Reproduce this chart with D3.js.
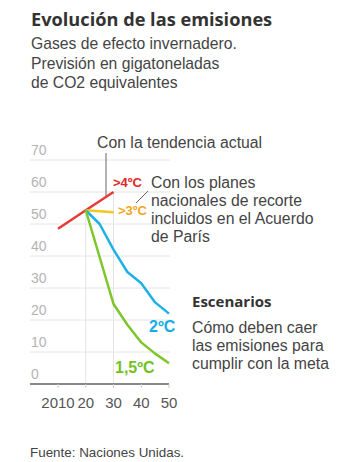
<!DOCTYPE html>
<html>
<head>
<meta charset="utf-8">
<script src="https://cdn.jsdelivr.net/npm/d3@7"></script>
<style>
	body { margin: 0; background: #fff; }
	svg { font-family: 'Liberation Sans', Arial, sans-serif; }
</style>
</head>
<body>
<svg id="chart" width="358" height="462"></svg>
<script>
// values (gigatonnes CO2e)
const tendencia = [[2010, 48.5], [2020, 54.3], [2030, 60]]
const paris = [[2020, 54.3], [2030, 53.7]]
const dosGrados = [[2020, 54.3], [2025, 50], [2030, 42], [2035, 35], [2040, 31.5], [2045, 25.5], [2050, 22]]
const unoCinco = [[2020, 54.3], [2030, 25], [2035, 18.5], [2040, 13], [2045, 9.5], [2050, 6.5]]

const yTicks = [0, 10, 20, 30, 40, 50, 60, 70]
const xTicks = [2010, 2020, 2030, 2040, 2050]
const xTickLabels = ['2010', '20', '30', '40', '50']

const svg = d3.select('#chart')
const x = d3.scaleLinear().domain([2010, 2050]).range([58, 169])
const y = d3.scaleLinear().domain([0, 70]).range([384, 160])

const line = d3
	.line()
	.x(d => x(d[0]))
	.y(d => y(d[1]))

// title block
svg.append('text')
	.attr('x', 31)
	.attr('y', 26)
	.attr('font-family', "'Open Sans', sans-serif")
	.attr('font-size', 18.2)
	.attr('font-weight', 700)
	.attr('fill', '#333')
	.text('Evolución de las emisiones')
const sub = ['Gases de efecto invernadero.', 'Previsión en gigatoneladas', 'de CO2 equivalentes']
svg.append('g')
	.selectAll('text')
	.data(sub)
	.enter()
	.append('text')
	.attr('x', 31)
	.attr('y', (d, i) => 49 + i * 19.5)
	.attr('font-size', 15.7)
	.attr('fill', '#444')
	.text(d => d)

// grid
const grid = svg.append('g')
grid.selectAll('line.h')
	.data(yTicks.filter(v => v > 0))
	.enter()
	.append('line')
	.attr('x1', 30)
	.attr('x2', 170)
	.attr('y1', d => y(d))
	.attr('y2', d => y(d))
	.attr('stroke', '#e4e4e4')
	.attr('stroke-width', 1)
// vertical guides at 2020 and 2030, from the trend line down
grid.selectAll('line.v')
	.data(tendencia.slice(1))
	.enter()
	.append('line')
	.attr('x1', d => x(d[0]))
	.attr('x2', d => x(d[0]))
	.attr('y1', d => y(d[1]))
	.attr('y2', y(0))
	.attr('stroke', '#e4e4e4')
	.attr('stroke-width', 1)

grid.selectAll('text')
	.data(yTicks)
	.enter()
	.append('text')
	.attr('x', 31)
	.attr('y', d => y(d) - 5)
	.attr('font-size', 14)
	.attr('fill', '#b3b3b3')
	.text(d => d)

// x axis
const xAxis = svg.append('g')
xAxis.append('line')
	.attr('x1', 30)
	.attr('x2', 169)
	.attr('y1', y(0))
	.attr('y2', y(0))
	.attr('stroke', '#888')
	.attr('stroke-width', 2)
xAxis.selectAll('line.tick')
	.data(xTicks)
	.enter()
	.append('line')
	.attr('x1', d => x(d))
	.attr('x2', d => x(d))
	.attr('y1', y(0))
	.attr('y2', y(0) + 4)
	.attr('stroke', '#ccc')
xAxis.selectAll('text')
	.data(xTicks)
	.enter()
	.append('text')
	.attr('x', d => x(d))
	.attr('y', 408)
	.attr('text-anchor', 'middle')
	.attr('font-size', 15)
	.attr('fill', '#555')
	.text((d, i) => xTickLabels[i])

// series
const series = [
	{ data: tendencia, color: '#e63a35' },
	{ data: paris, color: '#f7c520' },
	{ data: dosGrados, color: '#1db1e8' },
	{ data: unoCinco, color: '#7cc72a' },
]
svg.append('g')
	.selectAll('path')
	.data(series)
	.enter()
	.append('path')
	.attr('d', d => line(d.data))
	.attr('fill', 'none')
	.attr('stroke', d => d.color)
	.attr('stroke-width', 2.5)
	.attr('stroke-linejoin', 'round')

// series labels
const labels = [
	{ text: '>4ºC', x: 113, y: 187, color: '#e2262b', size: 13 },
	{ text: '>3ºC', x: 118, y: 215, color: '#f3a71f', size: 13 },
	{ text: '2ºC', x: 149, y: 332, color: '#17ace6', size: 16 },
	{ text: '1,5ºC', x: 115, y: 373, color: '#72c21f', size: 16 },
]
svg.append('g')
	.selectAll('text')
	.data(labels)
	.enter()
	.append('text')
	.attr('x', d => d.x)
	.attr('y', d => d.y)
	.attr('font-size', d => d.size)
	.attr('font-weight', 700)
	.attr('fill', d => d.color)
	.text(d => d.text)

// annotations
const ann = svg.append('g').attr('font-size', 15.8).attr('fill', '#444')
ann.append('text').attr('x', 97).attr('y', 148).text('Con la tendencia actual')
ann.append('line')
	.attr('x1', 106)
	.attr('x2', 106)
	.attr('y1', 153)
	.attr('y2', 196)
	.attr('stroke', '#666')
const parisNote = ['Con los planes', 'nacionales de recorte', 'incluidos en el Acuerdo', 'de París']
ann.selectAll('text.p')
	.data(parisNote)
	.enter()
	.append('text')
	.attr('x', 151)
	.attr('y', (d, i) => 188 + i * 18)
	.text(d => d)
ann.append('line')
	.attr('x1', 148)
	.attr('y1', 191)
	.attr('x2', 136)
	.attr('y2', 203)
	.attr('stroke', '#666')

ann.append('text')
	.attr('x', 192)
	.attr('y', 307)
	.attr('font-family', "'Open Sans', sans-serif")
	.attr('font-weight', 700)
	.attr('fill', '#333')
	.attr('font-size', 15)
	.text('Escenarios')
const escNote = ['Cómo deben caer', 'las emisiones para', 'cumplir con la meta']
ann.selectAll('text.e')
	.data(escNote)
	.enter()
	.append('text')
	.attr('x', 192)
	.attr('y', (d, i) => 333 + i * 18)
	.text(d => d)

svg.append('text')
	.attr('x', 30)
	.attr('y', 457)
	.attr('font-size', 13.4)
	.attr('fill', '#444')
	.text('Fuente: Naciones Unidas.')
</script>
</body>
</html>
